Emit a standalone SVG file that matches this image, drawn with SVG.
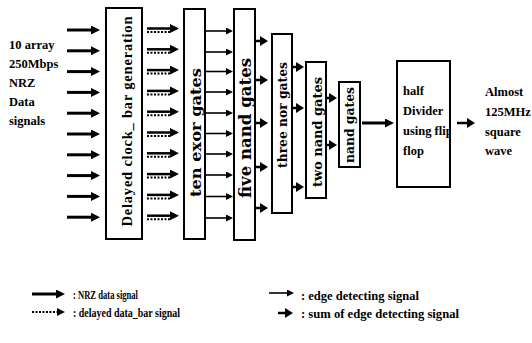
<svg xmlns="http://www.w3.org/2000/svg" width="532" height="343" viewBox="0 0 532 343">
<defs>
<style>
.box{fill:#fff;stroke:#000;stroke-width:2}
.lbl{font-family:"Liberation Serif","Times New Roman",serif;font-weight:bold;font-size:12.5px;fill:#000}
.rot{font-family:"DejaVu Serif","Liberation Serif",serif;font-weight:bold;fill:#000}
.leg{font-family:"Liberation Serif","Times New Roman",serif;font-weight:bold;font-size:12px;fill:#000}
.nrz{stroke:#000;stroke-width:3;fill:none;marker-end:url(#hBig)}
.sol{stroke:#000;stroke-width:2.5;fill:none;marker-end:url(#hBig)}
.dot{stroke:#000;stroke-width:2;stroke-dasharray:2 1.5;fill:none}
.thin{stroke:#000;stroke-width:1.6;fill:none;marker-end:url(#hSm)}
.sum{stroke:#000;stroke-width:2.5;fill:none;marker-end:url(#hSum)}
</style>
<marker id="hBig" markerUnits="userSpaceOnUse" markerWidth="9" markerHeight="9" refX="2" refY="4.5" orient="auto" viewBox="0 0 9 9"><path d="M0,0 L9,4.5 L0,9 z" fill="#000"/></marker>
<marker id="hSm" markerUnits="userSpaceOnUse" markerWidth="7" markerHeight="7" refX="1" refY="3.5" orient="auto" viewBox="0 0 7 7"><path d="M0,0 L7,3.5 L0,7 z" fill="#000"/></marker>
<marker id="hSum" markerUnits="userSpaceOnUse" markerWidth="8" markerHeight="10" refX="1" refY="5" orient="auto" viewBox="0 0 8 10"><path d="M0,0 L8,5 L0,10 z" fill="#000"/></marker>
<clipPath id="divClip"><rect x="397" y="61" width="53" height="126"/></clipPath>
</defs>

<g id="input-label">
<text class="lbl" x="9" y="49">10 array</text>
<text class="lbl" x="9" y="68">250Mbps</text>
<text class="lbl" x="9" y="87">NRZ</text>
<text class="lbl" x="9" y="106">Data</text>
<text class="lbl" x="9" y="125">signals</text>
</g>

<g id="delayed-box">
<rect class="box" x="106" y="8" width="36" height="231"/>
<text font-family="Liberation Serif, Times New Roman, serif" font-weight="bold" font-size="14.5" fill="#000" text-anchor="middle" textLength="210" lengthAdjust="spacing" transform="translate(132,121.5) rotate(-90)">Delayed clock_ bar generation</text>
</g>

<g id="exor-box">
<rect class="box" x="184" y="9" width="21" height="230"/>
<text class="rot" font-size="15" text-anchor="middle" textLength="129" lengthAdjust="spacingAndGlyphs" transform="translate(201,132.5) rotate(-90)">ten exor gates</text>
</g>

<g id="five-nand-box">
<rect class="box" x="234" y="9" width="21" height="231"/>
<text class="rot" font-size="16" text-anchor="middle" textLength="140" lengthAdjust="spacingAndGlyphs" transform="translate(251,128) rotate(-90)">five nand gates</text>
</g>

<g id="three-nor-box">
<rect class="box" x="272" y="34" width="20" height="179"/>
<text class="rot" font-size="12" text-anchor="middle" textLength="106" lengthAdjust="spacingAndGlyphs" transform="translate(287,115) rotate(-90)">three nor gates</text>
</g>

<g id="two-nand-box">
<rect class="box" x="306" y="62" width="20" height="136"/>
<text class="rot" font-size="13" text-anchor="middle" textLength="110" lengthAdjust="spacingAndGlyphs" transform="translate(322,132) rotate(-90)">two nand gates</text>
</g>

<g id="nand-box">
<rect class="box" x="339" y="82" width="21" height="85"/>
<text class="rot" font-size="12" text-anchor="middle" textLength="76" lengthAdjust="spacingAndGlyphs" transform="translate(354,125) rotate(-90)">nand gates</text>
</g>

<g id="divider-box">
<rect class="box" x="397" y="61" width="53" height="126"/>
<g clip-path="url(#divClip)">
<text class="lbl" x="403" y="95">half</text>
<text class="lbl" x="403" y="115">Divider</text>
<text class="lbl" x="403" y="135">using flip</text>
<text class="lbl" x="403" y="155">flop</text>
</g>
</g>

<g id="output-label">
<text class="lbl" x="485" y="96">Almost</text>
<text class="lbl" x="485" y="116">125MHz</text>
<text class="lbl" x="485" y="136">square</text>
<text class="lbl" x="485" y="155">wave</text>
</g>

<g id="connectors">
<line class="nrz" x1="67" y1="30" x2="93" y2="30"/>
<line class="nrz" x1="67" y1="50.8" x2="93" y2="50.8"/>
<line class="nrz" x1="67" y1="71.6" x2="93" y2="71.6"/>
<line class="nrz" x1="67" y1="92.4" x2="93" y2="92.4"/>
<line class="nrz" x1="67" y1="113.2" x2="93" y2="113.2"/>
<line class="nrz" x1="67" y1="134" x2="93" y2="134"/>
<line class="nrz" x1="67" y1="154.8" x2="93" y2="154.8"/>
<line class="nrz" x1="67" y1="175.6" x2="93" y2="175.6"/>
<line class="nrz" x1="67" y1="196.4" x2="93" y2="196.4"/>
<line class="nrz" x1="67" y1="217.2" x2="93" y2="217.2"/>
<g>
<line class="sol" x1="147" y1="28.5" x2="172" y2="28.5"/><line class="dot" x1="147" y1="32" x2="170" y2="32"/>
<line class="sol" x1="147" y1="49.3" x2="172" y2="49.3"/><line class="dot" x1="147" y1="52.8" x2="170" y2="52.8"/>
<line class="sol" x1="147" y1="70.1" x2="172" y2="70.1"/><line class="dot" x1="147" y1="73.6" x2="170" y2="73.6"/>
<line class="sol" x1="147" y1="90.9" x2="172" y2="90.9"/><line class="dot" x1="147" y1="94.4" x2="170" y2="94.4"/>
<line class="sol" x1="147" y1="111.7" x2="172" y2="111.7"/><line class="dot" x1="147" y1="115.2" x2="170" y2="115.2"/>
<line class="sol" x1="147" y1="132.5" x2="172" y2="132.5"/><line class="dot" x1="147" y1="136" x2="170" y2="136"/>
<line class="sol" x1="147" y1="153.3" x2="172" y2="153.3"/><line class="dot" x1="147" y1="156.8" x2="170" y2="156.8"/>
<line class="sol" x1="147" y1="174.1" x2="172" y2="174.1"/><line class="dot" x1="147" y1="177.6" x2="170" y2="177.6"/>
<line class="sol" x1="147" y1="194.9" x2="172" y2="194.9"/><line class="dot" x1="147" y1="198.4" x2="170" y2="198.4"/>
<line class="sol" x1="147" y1="215.7" x2="172" y2="215.7"/><line class="dot" x1="147" y1="219.2" x2="170" y2="219.2"/>
</g>
<line class="thin" x1="205" y1="31" x2="227" y2="31"/>
<line class="thin" x1="205" y1="52" x2="227" y2="52"/>
<line class="thin" x1="205" y1="71.5" x2="227" y2="71.5"/>
<line class="thin" x1="205" y1="92" x2="227" y2="92"/>
<line class="thin" x1="205" y1="113" x2="227" y2="113"/>
<line class="thin" x1="205" y1="133.5" x2="227" y2="133.5"/>
<line class="thin" x1="205" y1="154" x2="227" y2="154"/>
<line class="thin" x1="205" y1="175" x2="227" y2="175"/>
<line class="thin" x1="205" y1="196.5" x2="227" y2="196.5"/>
<line class="thin" x1="205" y1="218" x2="227" y2="218"/>
<line class="sum" x1="255" y1="41" x2="261" y2="41"/>
<line class="sum" x1="255" y1="80" x2="261" y2="80"/>
<line class="sum" x1="255" y1="123" x2="261" y2="123"/>
<line class="sum" x1="255" y1="167" x2="261" y2="167"/>
<line class="sum" x1="255" y1="208" x2="261" y2="208"/>
<line class="sum" x1="292" y1="67" x2="297" y2="67"/>
<line class="sum" x1="292" y1="108" x2="297" y2="108"/>
<line class="sum" x1="292" y1="187" x2="297" y2="187"/>
<line class="sum" x1="326" y1="98" x2="330" y2="98"/>
<line class="sum" x1="326" y1="145" x2="330" y2="145"/>
<line class="nrz" x1="362" y1="123" x2="387" y2="123"/>
<line class="sum" x1="457" y1="123" x2="468" y2="123"/>
</g>

<g id="legend">
<line class="nrz" x1="32" y1="294" x2="58" y2="294"/>
<text class="leg" x="73" y="299" textLength="65" lengthAdjust="spacingAndGlyphs">: NRZ data signal</text>
<line class="dot" x1="32" y1="312" x2="57" y2="312"/>
<path d="M57,308 L65,312 L57,316 z" fill="#000"/>
<text class="leg" x="73" y="317" textLength="107" lengthAdjust="spacingAndGlyphs">: delayed data_bar signal</text>
<line class="thin" x1="269" y1="293" x2="288" y2="293"/>
<text class="leg" x="301" y="300" textLength="118" lengthAdjust="spacingAndGlyphs">: edge detecting signal</text>
<line class="sum" x1="278" y1="313" x2="286" y2="313"/>
<text class="leg" x="301" y="318" textLength="158" lengthAdjust="spacingAndGlyphs">: sum of  edge detecting signal</text>
</g>
</svg>
